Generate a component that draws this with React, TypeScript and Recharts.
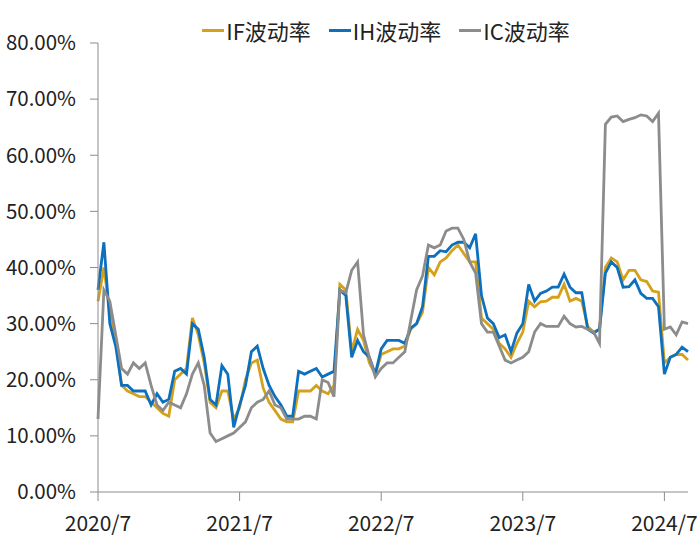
import React from "react";
import { LineChart, Line, XAxis, YAxis, Legend } from "recharts";

// half-month sampling, 2020/7/1 .. 2024/9/1
const dates: string[] = [];
for (let i = 0; i <= 100; i++) {
  const m = 6 + Math.floor(i / 2);
  const y = 2020 + Math.floor(m / 12);
  dates.push(`${y}/${(m % 12) + 1}/${i % 2 ? 16 : 1}`);
}

const ifVol = [
  34, 40, 32, 27, 19, 18, 17.5, 17, 17, 16,
  15, 14, 13.5, 20, 21, 22, 31, 28, 23, 16,
  15, 18, 18, 13, 15, 20, 23, 23.5, 18.5, 16,
  14.5, 13, 12.5, 12.5, 18, 18, 18, 19, 18, 17.5,
  19, 37, 36, 25, 29, 27, 23, 21, 24.5, 25,
  25.5, 25.5, 26, 29, 30, 32, 40, 38.7, 41, 41.7,
  43, 44, 42.5, 41, 41, 31, 30, 29, 26.5, 25.5,
  24, 26.5, 28.5, 34, 33, 33.9, 34, 34.7, 34.7, 37,
  34, 34.5, 34, 29.5, 28.5, 29, 40, 41.7, 41, 37.8,
  39.5, 39.5, 37.8, 37.5, 35.8, 35.6, 23, 24, 24.5, 24.5,
  23.5,
];

const ihVol = [
  36, 44.5, 30, 26, 19, 19, 18, 18, 18, 15.5,
  17.5, 16, 16.5, 21.5, 22, 21, 30, 29, 24, 16.5,
  15.5, 22.5, 21, 11.5, 15.5, 19, 25, 26, 22, 19,
  17, 15.5, 13.5, 13.5, 21.5, 21, 21.5, 22, 20.5, 21,
  21.5, 36, 35, 24, 27, 25, 24, 21, 25.5, 27,
  27, 27, 26.5, 29.2, 30, 33, 42, 42, 43, 42.8,
  44, 44.5, 44.5, 43.5, 46, 35, 31, 30, 27.5, 28,
  25, 28.3, 30, 37, 34, 35.4, 35.8, 36.5, 36.5, 38.8,
  36.5, 35.5, 35.5, 29, 28.3, 29, 39, 41, 40, 36.5,
  36.6, 37.8, 35.4, 34.5, 34.5, 33, 21, 24, 24.5, 25.8,
  25,
];

const icVol = [
  13, 36, 34, 28, 22, 21, 23, 22, 23, 19,
  15.5, 14.5, 16, 15.5, 15, 17.5, 21, 23, 19, 10.5,
  9, 9.5, 10, 10.5, 11.5, 12.5, 15, 16, 16.5, 18,
  15.5, 15, 13, 13, 13, 13.5, 13.5, 13, 20, 19.5,
  17, 36, 35.5, 39.5, 41, 28, 24, 20.5, 22, 23,
  23, 24, 25, 30.5, 36, 38.5, 44, 43.5, 44, 46.5,
  47, 47, 45, 41, 39, 30, 28.5, 28.5, 26, 23.5,
  23, 23.5, 24, 25, 28.5, 30, 29.5, 29.5, 29.5, 31.3,
  30, 29.4, 29.5, 29, 28.5, 26.5, 65.5, 66.8, 67, 66,
  66.4, 66.7, 67.2, 67, 66, 67.5, 29, 29.4, 28, 30.3,
  30,
];

const yTicks = [0, 10, 20, 30, 40, 50, 60, 70, 80];
const xTicks = ["2020/7/1", "2021/7/1", "2022/7/1", "2023/7/1", "2024/7/1"];
const xTickLabels = ["2020/7", "2021/7", "2022/7", "2023/7", "2024/7"];

const series = [
  { key: "IF", name: "IF波动率", color: "#D6A11A" },
  { key: "IH", name: "IH波动率", color: "#0C70BF" },
  { key: "IC", name: "IC波动率", color: "#8C8C8C" },
];

const data = dates.map((d, i) => ({
  date: d,
  IF: ifVol[i],
  IH: ihVol[i],
  IC: icVol[i],
}));

const font = '"Noto Sans CJK SC", "Noto Sans", sans-serif';

function LegendRow() {
  return (
    <div style={{ display: "flex", justifyContent: "center", fontFamily: font, fontSize: 22, lineHeight: "28px", color: "#222", paddingLeft: 90 }}>
      {series.map((s) => (
        <div key={s.key} style={{ display: "flex", alignItems: "center", marginRight: 18 }}>
          <span style={{ display: "inline-block", width: 22, height: 3, background: s.color, marginRight: 2 }} />
          <span>{s.name}</span>
        </div>
      ))}
    </div>
  );
}

export default function App() {
  return (
    <div style={{ position: "absolute", left: 0, top: 0, background: "#fff" }}>
      <LineChart width={700} height={547} data={data} margin={{ top: 15, right: 12, bottom: 25, left: 0 }}>
        <Legend
          verticalAlign="top"
          content={() => <LegendRow />}
          wrapperStyle={{ position: "absolute", top: 16, left: 0, width: 700 }}
        />
        <XAxis
          dataKey="date"
          ticks={xTicks}
          interval={0}
          tickFormatter={(v) => xTickLabels[xTicks.indexOf(v)] ?? ""}
          tick={{ fontSize: 21, fill: "#222", fontFamily: font }}
          tickSize={9}
          tickMargin={15}
          stroke="#8c8c8c"
        />
        <YAxis
          width={98}
          domain={[0, 80]}
          ticks={yTicks}
          tickFormatter={(v) => `${Number(v).toFixed(2)}%`}
          tick={{ fontSize: 20.5, fill: "#222", fontFamily: font }}
          tickSize={8}
          tickMargin={14}
          stroke="#8c8c8c"
        />
        {series.map((s) => (
          <Line
            key={s.key}
            dataKey={s.key}
            name={s.name}
            stroke={s.color}
            strokeWidth={2.8}
            dot={false}
            isAnimationActive={false}
          />
        ))}
      </LineChart>
    </div>
  );
}
